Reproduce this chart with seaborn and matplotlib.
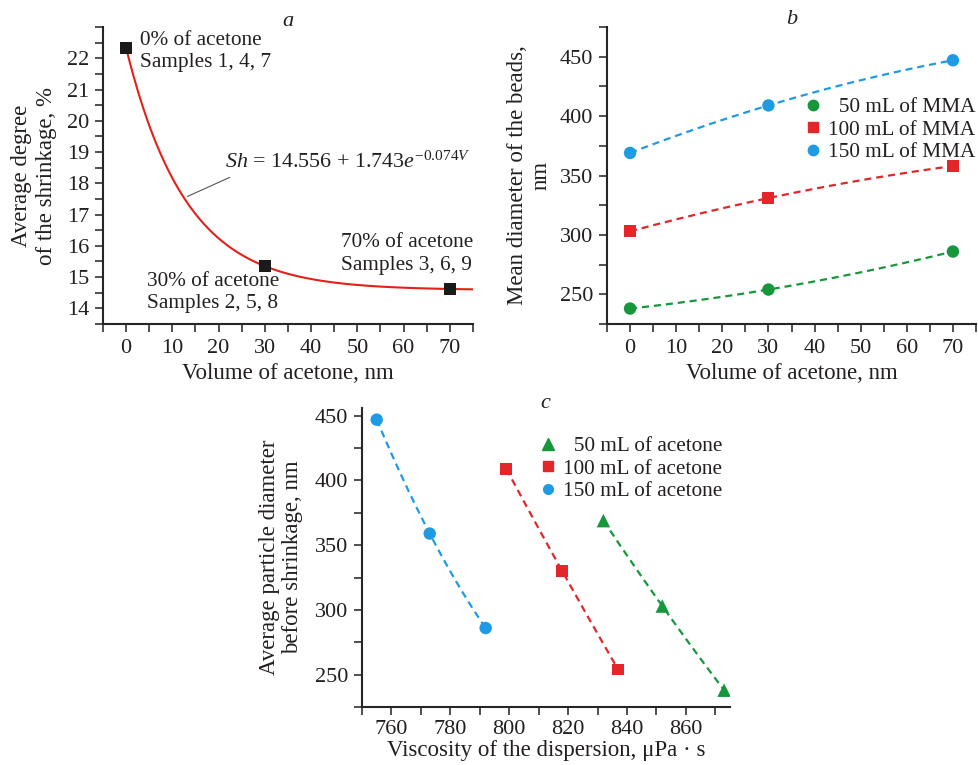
import numpy as np
import pandas as pd
import matplotlib
matplotlib.use("Agg")
import matplotlib.pyplot as plt
import seaborn as sns
from matplotlib.ticker import MultipleLocator, FixedLocator
from matplotlib.lines import Line2D

# ---------------- data ----------------
# panel a
a_volume = [0, 30, 70]
a_shrink = [22.33, 15.35, 14.62]
a_labels = ["0% of acetone\nSamples 1, 4, 7",
            "30% of acetone\nSamples 2, 5, 8",
            "70% of acetone\nSamples 3, 6, 9"]
a_equation = r"$\mathit{Sh}$ = 14.556 + 1.743$e^{-0.074\mathit{V}}$"
a_yticks = [14, 15, 16, 17, 18, 19, 20, 21, 22]

# panel b
b_volume = [0, 30, 70]
b_50 = [238, 254, 286]
b_100 = [303, 331, 358]
b_150 = [369, 409, 447]
b_series = ["50 mL of MMA", "100 mL of MMA", "150 mL of MMA"]
b_yticks = [250, 300, 350, 400, 450]

# panel c
c_visc_50 = [832, 852, 873]
c_diam_50 = [369, 303, 238]
c_visc_100 = [799, 818, 837]
c_diam_100 = [409, 330, 254]
c_visc_150 = [755, 773, 792]
c_diam_150 = [447, 359, 286]
c_series = ["50 mL of acetone", "100 mL of acetone", "150 mL of acetone"]
c_yticks = [250, 300, 350, 400, 450]

GREEN = "#16973c"
RED = "#e2262a"
BLUE = "#1e9be3"

TICK_FS = 16
LABEL_FS = 16.5
TEXT_FS = 15.3

# ---------------- style ----------------
sns.set_style("ticks")
plt.rcParams["font.family"] = ["Liberation Serif", "DejaVu Serif"]
plt.rcParams["mathtext.fontset"] = "custom"
plt.rcParams["mathtext.rm"] = "Liberation Serif"
plt.rcParams["mathtext.it"] = "Liberation Serif:italic"
plt.rcParams["font.size"] = 15
plt.rcParams["axes.linewidth"] = 1.5
plt.rcParams["text.color"] = "#231f20"
plt.rcParams["axes.labelcolor"] = "#231f20"
plt.rcParams["xtick.color"] = "#231f20"
plt.rcParams["ytick.color"] = "#231f20"

fig = plt.figure(figsize=(9.79, 7.65), dpi=100)
W, H = 979, 765


def px_axes(l, t, r, b):
    return fig.add_axes([l / W, 1 - b / H, (r - l) / W, (b - t) / H])


def style(ax, xmaj, xmin, yticks, ymin):
    sns.despine(ax=ax)
    ax.xaxis.set_major_locator(MultipleLocator(xmaj))
    ax.xaxis.set_minor_locator(MultipleLocator(xmin))
    ax.yaxis.set_major_locator(FixedLocator(yticks))
    ax.yaxis.set_minor_locator(MultipleLocator(ymin))
    ax.tick_params(which="both", direction="out", length=5.5, width=1.1,
                   labelsize=TICK_FS)
    ax.tick_params(axis="x", which="both", pad=5.5)
    ax.tick_params(axis="y", which="both", pad=4.5)
    ax.set_facecolor("none")


def exp_fit(x, y):
    x = np.asarray(x, float)
    y = np.asarray(y, float)
    target = (y[1] - y[2]) / (y[0] - y[1])

    def f(b):
        e = np.exp(-b * x)
        return (e[1] - e[2]) / (e[0] - e[1]) - target

    lo, hi = 1e-5, 2.0
    for _ in range(200):
        mid = 0.5 * (lo + hi)
        if f(mid) > 0:
            lo = mid
        else:
            hi = mid
    b = 0.5 * (lo + hi)
    e = np.exp(-b * x)
    a = (y[0] - y[1]) / (e[0] - e[1])
    c = y[0] - a * e[0]
    return a, b, c


# ---------------- panel a ----------------
ax = px_axes(103, 27, 473, 324)
A, B, C = exp_fit(a_volume, a_shrink)
vv = np.linspace(0, 75, 300)
curve = pd.DataFrame({"V": vv, "Sh": C + A * np.exp(-B * vv)})
sns.lineplot(data=curve, x="V", y="Sh", ax=ax, color="#e32119", lw=1.5)
pts = pd.DataFrame({"V": a_volume, "Sh": a_shrink})
sns.scatterplot(data=pts, x="V", y="Sh", ax=ax, marker="s", s=80,
                color="#1a1a1a", edgecolor="none", zorder=5)
ax.set_xlim(-5, 75)
ax.set_ylim(13.5, 23)
style(ax, 10, 5, a_yticks, 0.5)
ax.set_xlabel("Volume of acetone, nm", fontsize=LABEL_FS, labelpad=3.5)
ax.set_ylabel("Average degree\nof the shrinkage, %", fontsize=LABEL_FS,
              linespacing=1.25)
ax.yaxis.set_label_coords(-0.125, 0.5)
for txt, xv, yv in zip(a_labels, [3.0, 4.6, 46.5], [22.21, 14.51, 15.74]):
    ax.text(xv, yv, txt, fontsize=TEXT_FS, va="center", ha="left",
            linespacing=1.25)
ax.text(21.3, 18.66, a_equation, fontsize=TEXT_FS + 0.5, va="center",
        ha="left")
ax.plot([22.4, 13.26], [18.19, 17.58], color="#555555", lw=0.8)

# ---------------- panel b ----------------
ax = px_axes(607, 27, 976, 324)
colors_b = [GREEN, RED, BLUE]
markers_b = ["o", "s", "o"]
for vals, col, mk in zip([b_50, b_100, b_150], colors_b, markers_b):
    coef = np.polyfit(b_volume, vals, 2)
    xx = np.linspace(0, 70, 200)
    fit = pd.DataFrame({"V": xx, "D": np.polyval(coef, xx)})
    sns.lineplot(data=fit, x="V", y="D", ax=ax, color=col, lw=1.6,
                 linestyle=(0, (3.2, 2.2)))
    pts = pd.DataFrame({"V": b_volume, "D": vals})
    sns.scatterplot(data=pts, x="V", y="D", ax=ax, marker=mk,
                    s=80 if mk == "o" else 75, color=col, edgecolor="none",
                    zorder=5)
ax.set_xlim(-5, 75)
ax.set_ylim(225, 475)
style(ax, 10, 5, b_yticks, 25)
ax.set_xlabel("Volume of acetone, nm", fontsize=LABEL_FS, labelpad=3.5)
ax.set_ylabel("Mean diameter of the beads,\nnm", fontsize=LABEL_FS,
              linespacing=1.15)
ax.yaxis.set_label_coords(-0.15, 0.5)
handles = [Line2D([], [], ls="none", marker=m, color=c, markersize=7.5)
           for m, c in zip(markers_b, colors_b)]
labels = ["  " + b_series[0], b_series[1], b_series[2]]
ax.legend(handles, labels, loc="upper right", bbox_to_anchor=(1.034, 0.806),
          frameon=False, fontsize=TEXT_FS, handlelength=0.6,
          handletextpad=0.4, labelspacing=0.12, borderpad=0.1)

# ---------------- panel c ----------------
ax = px_axes(362, 408, 730, 707)
c_sets = [(c_visc_50, c_diam_50, GREEN, "^", 95),
          (c_visc_100, c_diam_100, RED, "s", 70),
          (c_visc_150, c_diam_150, BLUE, "o", 80)]
for xs, ys, col, mk, sz in c_sets:
    coef = np.polyfit(xs, ys, 2)
    xx = np.linspace(xs[0], xs[-1], 200)
    fit = pd.DataFrame({"x": xx, "y": np.polyval(coef, xx)})
    sns.lineplot(data=fit, x="x", y="y", ax=ax, color=col, lw=1.6,
                 linestyle=(0, (3.2, 2.2)))
    pts = pd.DataFrame({"x": xs, "y": ys})
    sns.scatterplot(data=pts, x="x", y="y", ax=ax, marker=mk, s=sz,
                    color=col, edgecolor="none", zorder=5)
ax.set_xlim(750, 875)
ax.set_ylim(225, 456)
style(ax, 20, 10, c_yticks, 25)
ax.tick_params(axis="x", which="both", pad=4)
ax.set_xlabel("Viscosity of the dispersion, \u03bcPa \u00b7 s",
              fontsize=LABEL_FS, labelpad=0.5)
ax.set_ylabel("Average particle diameter\nbefore shrinkage, nm",
              fontsize=LABEL_FS, linespacing=1.15)
ax.yaxis.set_label_coords(-0.16, 0.5)
handles = [Line2D([], [], ls="none", marker=m, color=c,
                  markersize=8.5 if m == "^" else 7)
           for _, _, c, m, _ in c_sets]
labels = ["  " + c_series[0], c_series[1], c_series[2]]
ax.legend(handles, labels, loc="upper right", bbox_to_anchor=(1.0136, 0.947),
          frameon=False, fontsize=TEXT_FS, handlelength=0.6,
          handletextpad=0.4, labelspacing=0.12, borderpad=0.1)

# ---------------- panel letters ----------------
fig.text(288 / W, 1 - 22 / H, "a", fontsize=16, style="italic",
         ha="center", va="center")
fig.text(792 / W, 1 - 20 / H, "b", fontsize=16, style="italic",
         ha="center", va="center")
fig.text(545 / W, 1 - 403 / H, "c", fontsize=16, style="italic",
         ha="center", va="center")

fig.savefig("out.png", dpi=100)
